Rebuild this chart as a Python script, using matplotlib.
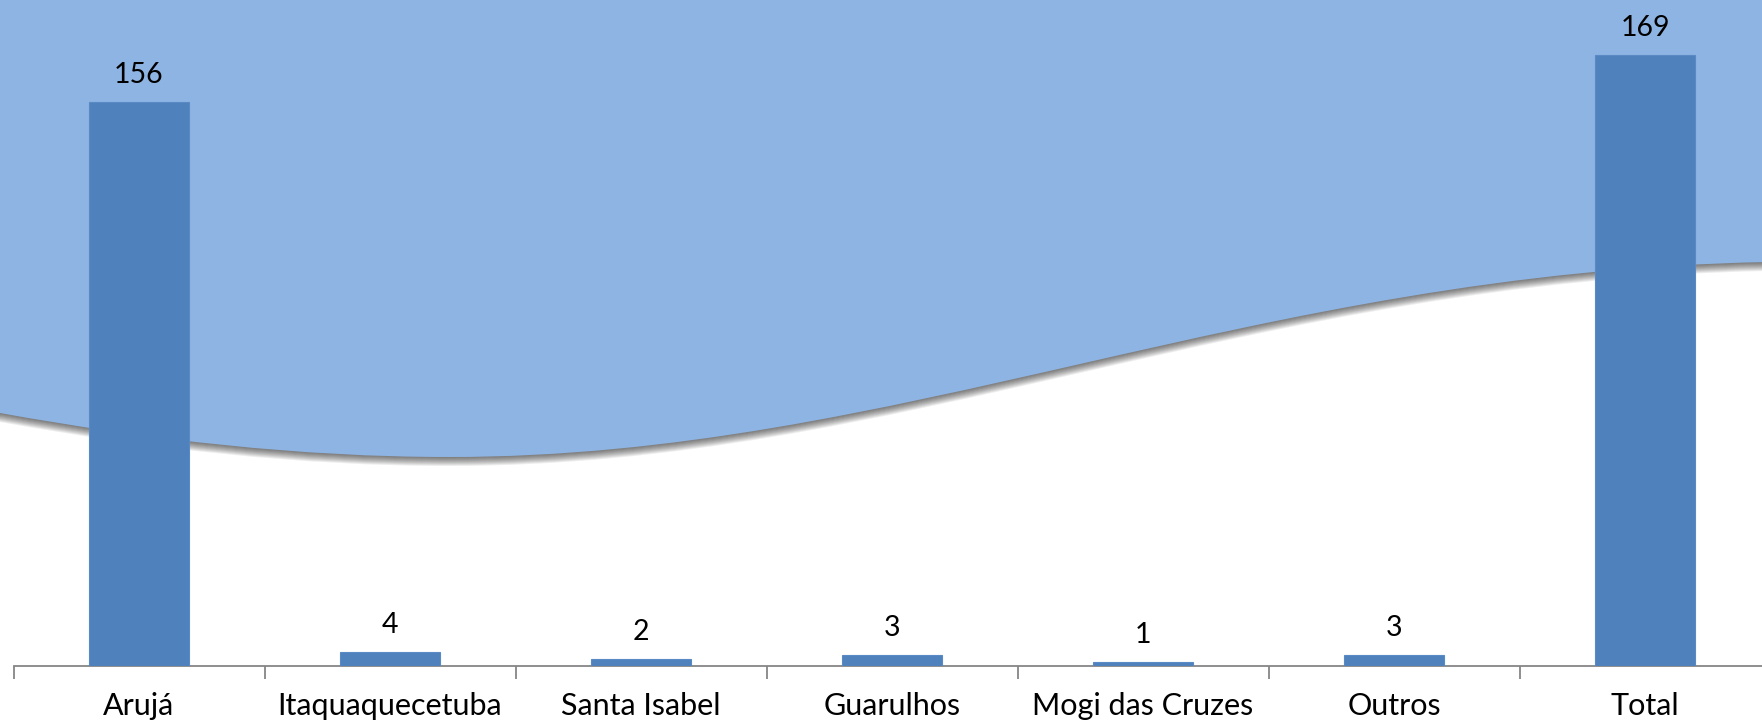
import matplotlib
matplotlib.use('Agg')
import matplotlib.pyplot as plt
from matplotlib.path import Path
from matplotlib.patches import PathPatch

plt.rcParams['font.family'] = ['Lato', 'DejaVu Sans']

# data
cidades = ['Arujá', 'Itaquaquecetuba', 'Santa Isabel', 'Guarulhos',
           'Mogi das Cruzes', 'Outros', 'Total']
valores = [156, 4, 2, 3, 1, 3, 169]

W, H = 1762, 722
fig = plt.figure(figsize=(W / 100, H / 100), dpi=100)
fig.patch.set_facecolor('white')

# background wave (decoration, figure pixel coords -> fractions)
def fp(x, y):
    return (x / W, 1 - y / H)

wave = [
    (fp(-5, -5), Path.MOVETO),
    (fp(-5, 413), Path.LINETO),
    (fp(0, 413), Path.LINETO),
    (fp(150, 440), Path.CURVE4),
    (fp(300, 457), Path.CURVE4),
    (fp(449, 457), Path.CURVE4),
    (fp(900, 457), Path.CURVE4),
    (fp(1250, 272), Path.CURVE4),
    (fp(1767, 262), Path.CURVE4),
    (fp(1767, -5), Path.LINETO),
    (fp(-5, -5), Path.CLOSEPOLY),
]
verts, codes = zip(*wave)

# soft shadow under the wave edge
for off in range(1, 10):
    sh = [(vx, vy - off / H) for vx, vy in verts]
    fig.patches.append(PathPatch(Path(sh, codes), transform=fig.transFigure,
                                 facecolor='black', edgecolor='none',
                                 alpha=0.07, zorder=0))
fig.patches.append(PathPatch(Path(verts, codes), transform=fig.transFigure,
                             facecolor='#8EB4E3', edgecolor='none', zorder=1))

# axes
left = 13.5 / W
cat_w = 251 / W
base = (H - 666) / H
ax = fig.add_axes([left, base, cat_w * 7, 666 / H])
ax.set_facecolor('none')
ax.set_zorder(2)

x = list(range(len(cidades)))
bars = ax.bar(x, valores, width=0.395, color='#4F81BD', edgecolor='#5A8AC6',
              linewidth=0.8, zorder=3)
ax.set_xlim(-0.5, len(cidades) - 0.5)
ax.set_ylim(0, 184.2)

for xi, v in zip(x, valores):
    ax.annotate(str(v), (xi, v), xytext=(0, 10), textcoords='offset points',
                ha='center', va='bottom', fontsize=20.5, color='black')

for s in ['top', 'right', 'left']:
    ax.spines[s].set_visible(False)
ax.spines['bottom'].set_color('#868686')
ax.spines['bottom'].set_linewidth(1.3)
ax.set_yticks([])

ax.set_xticks([i - 0.5 for i in range(len(cidades) + 1)])
ax.set_xticklabels([])
ax.tick_params(axis='x', which='major', length=9, width=1.3, color='#868686')
ax.set_xticks(x, minor=True)
ax.set_xticklabels(cidades, minor=True, fontsize=22)
ax.tick_params(axis='x', which='minor', length=0, pad=19)

fig.savefig('out.png', dpi=100, facecolor='white')
